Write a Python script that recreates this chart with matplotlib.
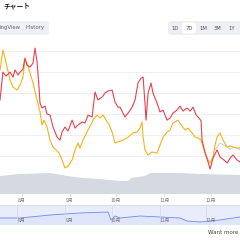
import matplotlib
matplotlib.use("Agg")
import matplotlib.pyplot as plt
from matplotlib.patches import FancyBboxPatch
from matplotlib.transforms import blended_transform_factory

plt.rcParams['font.family'] = ['Noto Sans CJK JP', 'DejaVu Sans']

# price series (days from Jul 18)
red_days = [0, 1.9, 3.9, 6.5, 8.4, 9.7, 11.6, 12.9, 14.8, 16.1,
            17.4, 19.4, 21.3, 22.6, 23.9, 25.2, 25.8, 27.1, 29.0, 30.3,
            32.3, 34.2, 36.8, 38.7, 40.0, 41.9, 43.9, 46.5, 48.4, 50.3,
            52.9, 54.8, 56.8, 59.4, 61.3, 63.2, 65.8, 67.7, 69.7, 72.3,
            74.2, 76.1, 77.4, 80.6, 83.2, 85.2, 87.1, 89.0, 91.0, 92.3,
            93.5, 94.2, 95.5, 97.4, 98.7, 101.3, 103.2, 105.2, 107.7, 109.7,
            111.6, 114.2, 116.1, 118.1, 120.6, 122.6, 124.5, 126.5, 128.4, 129.7,
            130.3, 132.3, 134.2, 135.5, 137.4, 140.0, 141.9, 144.5, 146.5, 148.4,
            150.3, 152.9, 154.8]
red_price = [46.7, 60.0, 58.1, 60.0, 57.6, 61.0, 58.6, 60.0, 61.4, 66.7,
             63.3, 62.4, 64.3, 71.4, 64.8, 52.4, 45.2, 42.9, 43.8, 40.0,
             39.5, 33.8, 29.0, 27.6, 31.4, 33.8, 31.9, 37.1, 33.3, 34.8,
             36.2, 35.7, 39.5, 38.6, 50.5, 46.7, 48.1, 50.0, 51.0, 51.4,
             45.7, 43.3, 43.3, 38.6, 41.0, 43.3, 46.7, 54.8, 57.1, 57.6,
             45.2, 37.1, 50.0, 54.8, 50.0, 45.2, 41.0, 41.9, 37.1, 38.1,
             40.5, 41.9, 43.8, 41.4, 42.9, 41.4, 43.3, 39.5, 38.1, 36.7,
             27.6, 21.4, 17.1, 13.8, 19.0, 22.9, 19.5, 18.1, 16.7, 19.0,
             20.5, 18.1, 17.1]

orange_days = [0, 1.9, 3.2, 4.5, 6.5, 8.4, 11.0, 12.9, 14.8, 16.1,
               17.4, 19.4, 21.3, 22.6, 23.9, 25.8, 27.1, 28.4, 30.3, 32.3,
               34.2, 36.1, 38.1, 40.0, 41.9, 43.9, 46.5, 48.4, 50.3, 51.6,
               53.5, 56.8, 60.0, 62.6, 64.5, 66.5, 68.4, 70.3, 72.3, 74.2,
               76.1, 79.4, 82.6, 85.8, 88.4, 90.3, 91.6, 92.3, 93.5, 95.5,
               98.1, 101.3, 103.2, 105.2, 107.7, 109.7, 111.6, 114.8, 117.4, 119.4,
               121.3, 123.9, 125.8, 127.7, 129.7, 131.0, 132.9, 134.2, 135.5, 137.4,
               138.7, 140.0, 141.9, 143.9, 146.5, 148.4, 150.3, 152.9, 154.8]
orange_price = [61.0, 70.5, 66.7, 62.4, 56.2, 52.9, 51.4, 53.8, 57.6, 65.7,
                64.3, 59.5, 54.8, 50.5, 46.7, 41.0, 34.8, 37.1, 33.8, 27.6,
                24.3, 22.9, 21.4, 18.1, 14.3, 15.2, 18.1, 22.9, 26.2, 23.8,
                27.6, 32.4, 37.1, 39.5, 38.1, 39.5, 37.1, 35.2, 31.4, 26.2,
                26.7, 27.6, 29.0, 31.0, 31.4, 33.3, 36.2, 29.0, 22.9, 20.5,
                21.9, 21.4, 25.2, 29.0, 31.4, 32.4, 35.7, 37.1, 34.3, 32.4,
                33.3, 31.0, 29.0, 28.6, 27.6, 24.3, 20.5, 18.1, 16.7, 19.5,
                25.2, 29.0, 31.0, 27.6, 24.3, 24.8, 24.3, 23.8, 23.8]

gray_days = [138.7, 141.9, 145.2, 148.4, 151.6, 154.8]
gray_price = [22.9, 26.2, 24.8, 23.3, 24.3, 22.9]

vol_days = [0, 12.9, 32.3, 43.2, 53.5, 64.5, 77.4, 82.6, 84.5, 93.5, 96.8, 116.1, 129.0, 154.8]
vol_values = [18, 20, 21, 18, 16, 15, 13, 13, 16, 18, 21, 21, 20, 19]

nav_days = [0, 12.9, 32.3, 51.6, 69.7, 71.6, 74.2, 77.4, 90.3, 103.2, 116.1, 120.6, 129.0, 141.9, 154.8]
nav_values = [7, 7, 10, 12, 13, 5, 9, 7, 9, 8, 7, 4, 3, 5, 8]

month_days = [14, 45, 75, 106, 136]
month_labels = ['8月', '9月', '10月', '11月', '12月']
range_labels = ['1D', '7D', '1M', '3M', '1Y']
view_labels = ['ingView', 'History']

W = H = 240
X_END = 154.8


def box(x0, y0, x1, y1):
    return [x0 / W, 1 - y1 / H, (x1 - x0) / W, (y1 - y0) / H]


fig = plt.figure(figsize=(2.4, 2.4), dpi=100)
fig.patch.set_facecolor('white')

# page furniture
ui = fig.add_axes([0, 0, 1, 1])
ui.set_xlim(0, W)
ui.set_ylim(H, 0)
ui.axis('off')

ui.text(3, 6, 'チャート', ha='left', va='center', fontsize=4.9,
        fontweight='bold', color='#1f2937')

ui.add_patch(FancyBboxPatch((-6, 21), 55, 14, boxstyle='round,pad=0,rounding_size=3',
                            fc='#eef0f4', ec='none'))
for lab, x in zip(view_labels, [10, 35]):
    ui.text(x, 28, lab, ha='center', va='center', fontsize=3.9, color='#5b6370',
            family='DejaVu Sans')

ui.add_patch(FancyBboxPatch((168, 21), 80, 14, boxstyle='round,pad=0,rounding_size=3',
                            fc='#eef0f4', ec='none'))
ui.add_patch(FancyBboxPatch((182, 22.5), 14, 11, boxstyle='round,pad=0,rounding_size=2.5',
                            fc='white', ec='none'))
for lab, x in zip(range_labels, [175, 189, 203, 218, 232]):
    ui.text(x, 28, lab, ha='center', va='center', fontsize=3.8, color='#4b5563',
            family='DejaVu Sans')

ui.text(238, 233, 'Want more', ha='right', va='center', fontsize=4.0,
        color='#444444', family='DejaVu Sans')

# volume
vx = fig.add_axes(box(0, 161, 240, 194))
vx.fill_between(vol_days, vol_values, color='#d5d9e2', lw=0)
vx.set_xlim(0, X_END)
vx.set_ylim(0, 33)
vx.axis('off')

# price
ax = fig.add_axes(box(0, 45, 240, 194))
ax.patch.set_alpha(0)
ax.plot(gray_days, gray_price, color='#c9ccd3', lw=0.7)
ax.plot(orange_days, orange_price, color='#f7b217', lw=0.8)
ax.plot(red_days, red_price, color='#e8414e', lw=0.8)
ax.set_xlim(0, X_END)
ax.set_ylim(1.9, 72.9)
ax.set_yticks([20, 30, 40, 50, 60, 70])
ax.yaxis.grid(True, color='#ececec', lw=0.6)
ax.set_axisbelow(True)
ax.tick_params(axis='y', left=False, labelleft=False)
ax.set_xticks(month_days)
ax.set_xticklabels(month_labels)
ax.tick_params(axis='x', length=1.5, width=0.5, color='#cccccc', pad=1,
               labelsize=3.6, labelcolor='#777777')
for s in ax.spines.values():
    s.set_visible(False)

# navigator
nav = fig.add_axes(box(0, 205, 240, 225))
nav.set_facecolor('#e9edfb')
nav.fill_between(nav_days, nav_values, color='#dfe5fa', lw=0)
nav.plot(nav_days, nav_values, color='#6b8cf0', lw=0.6)
nav.set_xlim(0, X_END)
nav.set_ylim(0, 20)
nav.set_xticks([])
nav.set_yticks([])
for side, s in nav.spines.items():
    s.set_visible(side == 'top')
nav.spines['top'].set_color('#cfd6ee')
nav.spines['top'].set_linewidth(0.5)
tr = blended_transform_factory(nav.transData, nav.transAxes)
for d, lab in zip(month_days, month_labels):
    nav.axvline(d - 3, color='#d3d9ec', lw=0.5)
    nav.text(d, 0.25, lab, transform=tr, ha='center', va='center',
             fontsize=3.6, color='#777777')

fig.savefig('out.png', dpi=100)
